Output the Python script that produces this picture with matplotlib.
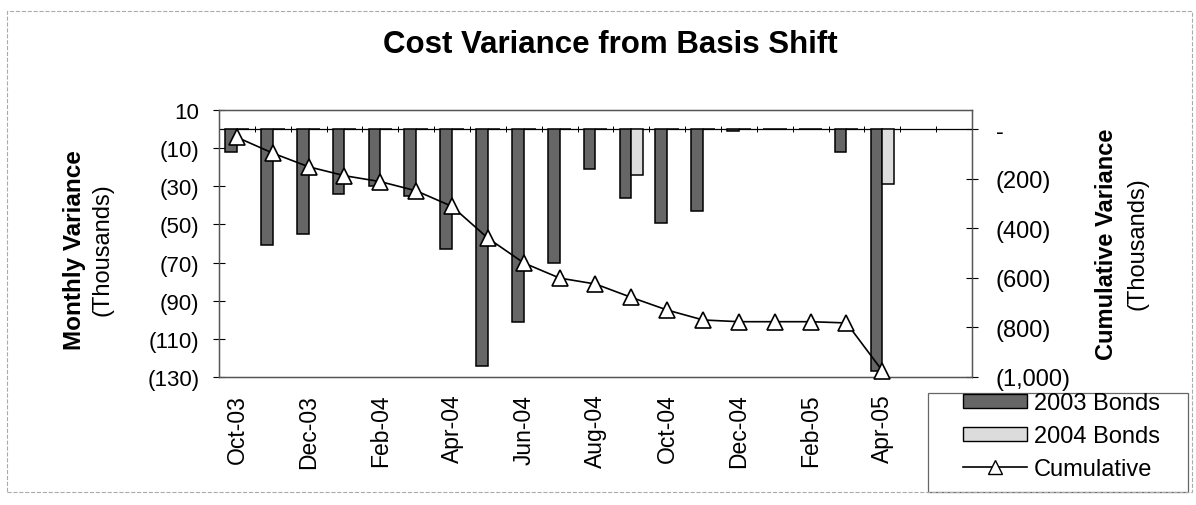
import numpy as np
import matplotlib
matplotlib.use("Agg")
import matplotlib.pyplot as plt
from matplotlib.patches import Patch, Rectangle
from matplotlib.lines import Line2D

plt.rcParams["font.family"] = ["Liberation Sans", "DejaVu Sans"]

# ── Data (thousands) ──────────────────────────────────────────────────────────
months = ["Oct-03", "Nov-03", "Dec-03", "Jan-04", "Feb-04", "Mar-04", "Apr-04",
          "May-04", "Jun-04", "Jul-04", "Aug-04", "Sep-04", "Oct-04", "Nov-04",
          "Dec-04", "Jan-05", "Feb-05", "Mar-05", "Apr-05", "May-05", "Jun-05"]
bonds_2003 = [-12, -61, -55, -34, -30, -35, -63, -124, -101, -70, -21, -36,
              -49, -43, -1, 0, 0, -12, -127, np.nan, np.nan]
bonds_2004 = [0, 0, 0, 0, 0, 0, 0, 0, 0, 0, 0, -24, 0, 0, 0, 0, 0, 0, -29,
              np.nan, np.nan]
cumulative = [-33, -97, -152, -188, -212, -249, -312, -440, -540, -601, -625,
              -679, -730, -770, -777, -777, -777, -782, -975, np.nan, np.nan]
shown_labels = ["Oct-03", "Dec-03", "Feb-04", "Apr-04", "Jun-04", "Aug-04",
                "Oct-04", "Dec-04", "Feb-05", "Apr-05"]

left_ticks = [10, -10, -30, -50, -70, -90, -110, -130]
right_ticks = [0, -200, -400, -600, -800, -1000]


def paren(v, comma=False):
    if v == 0:
        return "-"
    s = f"{abs(v):,}" if comma else f"{abs(v)}"
    return f"({s})" if v < 0 else s


# ── Plot ──────────────────────────────────────────────────────────────────────
fig = plt.figure(figsize=(11.96, 5.06), dpi=100)
ax = fig.add_axes([0.1831, 0.253, 0.6296, 0.5276])

x = np.arange(len(months))
w = 0.33
ax.bar(x - w / 2, bonds_2003, width=w, color="#666666", edgecolor="black",
       linewidth=1.1, zorder=3)
ax.bar(x + w / 2, bonds_2004, width=w, color="#dcdcdc", edgecolor="black",
       linewidth=1.1, zorder=3)

ax.set_xlim(-0.5, len(months) - 0.5)
ax.set_ylim(-130, 10)
ax.set_yticks(left_ticks)
ax.set_yticklabels([paren(v) for v in left_ticks], fontsize=16)
ax.tick_params(axis="y", direction="inout", length=8, width=0.8, pad=10)

# zero line with category-boundary ticks
ax.axhline(0, color="black", lw=0.9, zorder=2)
bounds = np.arange(len(months) + 1) - 0.5
ax.vlines(bounds, -1.6, 1.6, color="black", lw=0.7, zorder=2)

ax.set_xticks([months.index(m) for m in shown_labels])
ax.set_xticklabels(shown_labels, rotation=90, fontsize=16.5)
ax.tick_params(axis="x", length=0, pad=12)

for sp in ax.spines.values():
    sp.set_color("#555555")
    sp.set_linewidth(1.0)

ax2 = ax.twinx()
ax2.plot(x, cumulative, color="black", lw=1.2, marker="^", markersize=11,
         markerfacecolor="white", markeredgecolor="black",
         markeredgewidth=1.2, zorder=4, clip_on=False)
ax2.set_ylim(-1000, 1000 * 10 / 130)
ax2.set_yticks(right_ticks)
ax2.set_yticklabels([paren(v, comma=True) for v in right_ticks], fontsize=17)
ax2.tick_params(axis="y", direction="inout", length=8, width=0.8, pad=13)
for sp in ax2.spines.values():
    sp.set_color("#555555")

# axis titles
fig.text(0.0627, 0.506, "Monthly Variance", rotation=90, fontsize=17.5,
         fontweight="bold", ha="center", va="center")
fig.text(0.086, 0.506, "(Thousands)", rotation=90, fontsize=17,
         ha="center", va="center")
fig.text(0.9255, 0.518, "Cumulative Variance", rotation=90, fontsize=17,
         fontweight="bold", ha="center", va="center")
fig.text(0.951, 0.518, "(Thousands)", rotation=90, fontsize=17,
         ha="center", va="center")

fig.text(0.51, 0.911, "Cost Variance from Basis Shift", fontsize=22.5,
         fontweight="bold", ha="center", va="center")

handles = [
    Patch(facecolor="#666666", edgecolor="black", label="2003 Bonds"),
    Patch(facecolor="#dcdcdc", edgecolor="black", label="2004 Bonds"),
    Line2D([0], [0], color="black", lw=1.2, marker="^", markersize=10,
           markerfacecolor="white", markeredgecolor="black", label="Cumulative"),
]
leg = fig.legend(handles=handles, loc="center left",
                 bbox_to_anchor=(963 / 1196, 1 - 437 / 506), fontsize=17,
                 frameon=False, handlelength=2.7, handleheight=0.55,
                 handletextpad=0.3, labelspacing=0.45, borderpad=0,
                 borderaxespad=0)

# legend box
fig.patches.append(Rectangle((928 / 1196, 1 - 493 / 506), 260 / 1196,
                             99 / 506, transform=fig.transFigure, fill=False,
                             edgecolor="#666666", lw=0.9))

# outer chart border
fig.patches.append(Rectangle((0.006, 0.025), 0.991, 0.952,
                             transform=fig.transFigure, fill=False,
                             edgecolor="#aaaaaa", lw=0.8, linestyle="--"))

fig.savefig("out.png", dpi=100)
